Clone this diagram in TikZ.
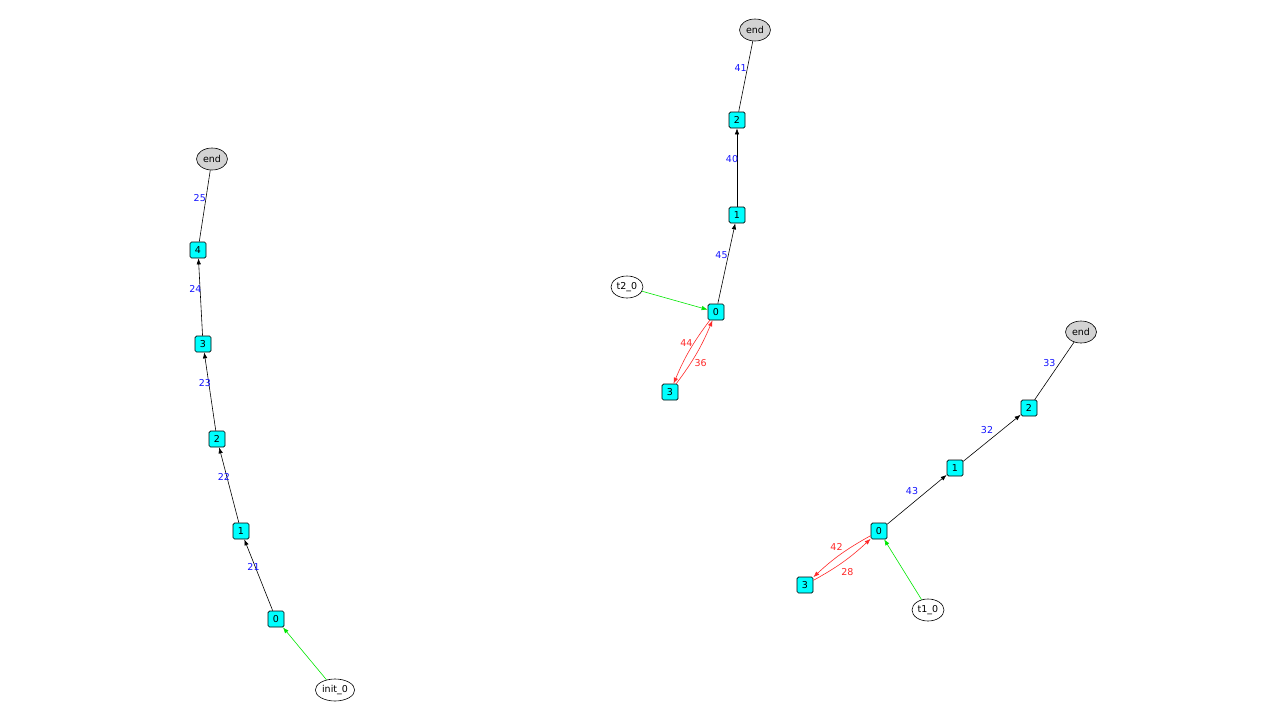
\documentclass[tikz,border=0pt]{standalone}
\usepackage{fontspec}
\setmainfont{DejaVu Sans}
\usetikzlibrary{arrows.meta,shapes.geometric}

\definecolor{aqua}{RGB}{0,255,255}
\definecolor{lightgray}{RGB}{211,211,211}
\definecolor{pure green}{RGB}{0,230,0}
\definecolor{labelblue}{RGB}{20,20,255}
\definecolor{labelred}{RGB}{255,40,40}

\begin{document}
\begin{tikzpicture}[x=1pt,y=-1pt]
\fontsize{9.5}{12}\selectfont
\useasboundingbox (0,0) rectangle (1280,720);

% Styles for the states of the three chains
\tikzstyle{state}=[draw=black, fill=aqua, rounded corners=1.5pt, minimum size=16pt, inner sep=0pt, line width=0.7pt]
\tikzstyle{endstate}=[draw=black, fill=lightgray, ellipse, minimum width=31pt, minimum height=22pt, inner sep=0pt, line width=0.6pt]
\tikzstyle{initstate}=[draw=black, fill=white, ellipse, minimum width=32pt, minimum height=22pt, inner sep=1pt, line width=0.6pt]

% Styles for the transitions
\tikzstyle{trans}=[draw=black, line width=0.6pt, -{Latex[length=6pt,width=4.5pt]}]
\tikzstyle{final}=[draw=black, line width=0.6pt]
\tikzstyle{entry}=[draw=pure green, line width=0.6pt, -{Latex[length=6pt,width=4.5pt]}]
\tikzstyle{loop}=[draw=labelred, line width=0.6pt, bend right=7, -{Latex[length=6pt,width=4.5pt]}]
\tikzstyle{lbl}=[text=labelblue, midway, xshift=-5pt, yshift=8pt, inner sep=0pt]
\tikzstyle{rlbl}=[text=labelred, midway, inner sep=0pt]

% First chain (init_0)
\node[state] (a0) at (276,619) {0};
\node[state] (a1) at (241,531) {1};
\node[state] (a2) at (217,439) {2};
\node[state] (a3) at (203,344) {3};
\node[state] (a4) at (198,250) {4};
\node[endstate] (aend) at (212,159) {end};
\node[initstate, minimum width=37pt] (ainit) at (335,690) {init\_0};

\draw[entry] (ainit) -- (a0);
\draw[trans] (a0) -- (a1) node[lbl] {21};
\draw[trans] (a1) -- (a2) node[lbl] {22};
\draw[trans] (a2) -- (a3) node[lbl] {23};
\draw[trans] (a3) -- (a4) node[lbl] {24};
\draw[final] (a4) -- (aend) node[lbl] {25};

% Second chain (t2_0)
\node[state] (b0) at (716,312) {0};
\node[state] (b1) at (737,215) {1};
\node[state] (b2) at (737,120) {2};
\node[state] (b3) at (670,392) {3};
\node[endstate] (bend) at (755,30) {end};
\node[initstate] (binit) at (627,287) {t2\_0};

\draw[entry] (binit) -- (b0);
\draw[trans] (b0) -- (b1) node[lbl] {45};
\draw[trans] (b1) -- (b2) node[lbl] {40};
\draw[final] (b2) -- (bend) node[lbl] {41};
\draw[loop] (b0) to node[rlbl, xshift=-3pt, yshift=8pt] {44} (b3);
\draw[loop] (b3) to node[rlbl, xshift=4pt, yshift=-10pt] {36} (b0);

% Third chain (t1_0)
\node[state] (c0) at (879,531) {0};
\node[state] (c1) at (955,468) {1};
\node[state] (c2) at (1029,408) {2};
\node[state] (c3) at (805,585) {3};
\node[endstate] (cend) at (1081,332) {end};
\node[initstate] (cinit) at (928,610) {t1\_0};

\draw[entry] (cinit) -- (c0);
\draw[trans] (c0) -- (c1) node[lbl] {43};
\draw[trans] (c1) -- (c2) node[lbl] {32};
\draw[final] (c2) -- (cend) node[lbl] {33};
\draw[loop] (c0) to node[rlbl, xshift=-4pt, yshift=7pt] {42} (c3);
\draw[loop] (c3) to node[rlbl, xshift=4pt, yshift=-10pt] {28} (c0);

\end{tikzpicture}
\end{document}
